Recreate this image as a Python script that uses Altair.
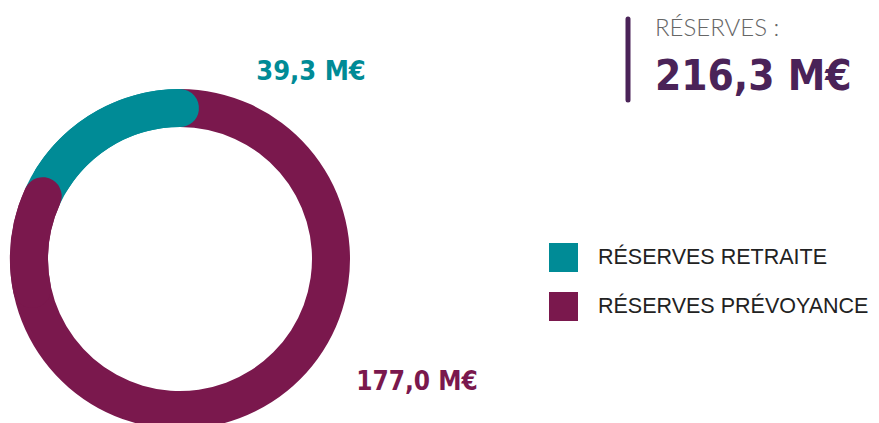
import math
import altair as alt
import pandas as pd

# ---- data ----
categories = ["RÉSERVES RETRAITE", "RÉSERVES PRÉVOYANCE"]
values = [39.3, 177.0]
value_labels = ["39,3 M€", "177,0 M€"]
colors = ["#008b96", "#7a184d"]
total_title = "RÉSERVES :"
total_label = "216,3 M€"

# ---- derived table (prévoyance drawn first, retraite ends at 12 o'clock) ----
total = sum(values)
order = [1, 0]
rows = []
acc = 0.0
for i in order:
    rows.append({"cat": categories[i], "start": acc, "end": acc + values[i]})
    acc += values[i]
df = pd.DataFrame(rows)

OUTER, INNER = 170, 132
CX, CY = 172, 251
cap = total * ((OUTER - INNER) / 2 / ((OUTER + INNER) / 2)) / (2 * math.pi)
df["cap_end"] = df["end"] + cap
df["cap_start"] = df["end"] - 6 * cap

theta_scale = alt.Scale(domain=[0, total], range=[0, 2 * math.pi], nice=False, zero=True)
color_scale = alt.Scale(domain=categories, range=colors)

base = alt.Chart(df).mark_arc(radius=OUTER, radius2=INNER).encode(
    x=alt.value(CX), y=alt.value(CY),
    theta=alt.Theta("start:Q", scale=theta_scale),
    theta2="end:Q",
    color=alt.Color(
        "cat:N", scale=color_scale,
        legend=alt.Legend(
            orient="none", legendX=541, legendY=235, title=None,
            symbolType="square", symbolSize=841, symbolStrokeWidth=0, symbolOpacity=1,
            labelFontSize=21.5, labelFont="Liberation Sans", labelColor="#222222",
            labelOffset=20, rowPadding=20, padding=0, labelLimit=400,
        ),
    ),
)

teal_cap = alt.Chart(df).transform_filter(
    alt.datum.cat == categories[0]
).mark_arc(radius=OUTER, radius2=INNER, cornerRadius=(OUTER - INNER) / 2).encode(
    x=alt.value(CX), y=alt.value(CY),
    theta=alt.Theta("start:Q", scale=theta_scale),
    theta2="cap_end:Q",
    color=alt.Color("cat:N", scale=color_scale, legend=None),
)

purple_cap = alt.Chart(df).transform_filter(
    alt.datum.cat == categories[1]
).mark_arc(radius=OUTER, radius2=INNER, cornerRadius=(OUTER - INNER) / 2).encode(
    x=alt.value(CX), y=alt.value(CY),
    theta=alt.Theta("cap_start:Q", scale=theta_scale),
    theta2="cap_end:Q",
    color=alt.Color("cat:N", scale=color_scale, legend=None),
)

num_font = "DejaVu Sans Condensed"
lbl_df = pd.DataFrame({"label": value_labels, "color": colors})
teal_lbl = alt.Chart(lbl_df).transform_filter(alt.datum.label == value_labels[0]).mark_text(
    font=num_font, fontWeight="bold", fontSize=27, align="center", baseline="alphabetic",
    color=colors[0]
).encode(x=alt.value(303), y=alt.value(72), text="label:N")
purple_lbl = alt.Chart(lbl_df).transform_filter(alt.datum.label == value_labels[1]).mark_text(
    font=num_font, fontWeight="bold", fontSize=26, align="center", baseline="alphabetic",
    color=colors[1]
).encode(x=alt.value(409), y=alt.value(382), text="label:N")

tot_df = pd.DataFrame({"title": [total_title], "value": [total_label]})
bar = alt.Chart(tot_df).mark_rule(color="#4a2358", strokeWidth=5, strokeCap="round").encode(
    x=alt.value(620), y=alt.value(11), y2=alt.value(92)
)
tot_title = alt.Chart(tot_df).mark_text(
    font="Lato", fontWeight=300, fontSize=24, align="left", baseline="alphabetic", color="#666666"
).encode(x=alt.value(647), y=alt.value(28), text="title:N")
tot_value = alt.Chart(tot_df).mark_text(
    font=num_font, fontWeight="bold", fontSize=42, align="left", baseline="alphabetic", color="#4a2358"
).encode(x=alt.value(647), y=alt.value(82), text="value:N")

chart = alt.layer(
    base, teal_cap, purple_cap, teal_lbl, purple_lbl, bar, tot_title, tot_value
).properties(
    width=863, height=415, autosize="none", padding=0
).configure_view(stroke=None)

chart.save("out.html", embed_options={"renderer": "svg", "actions": False})
